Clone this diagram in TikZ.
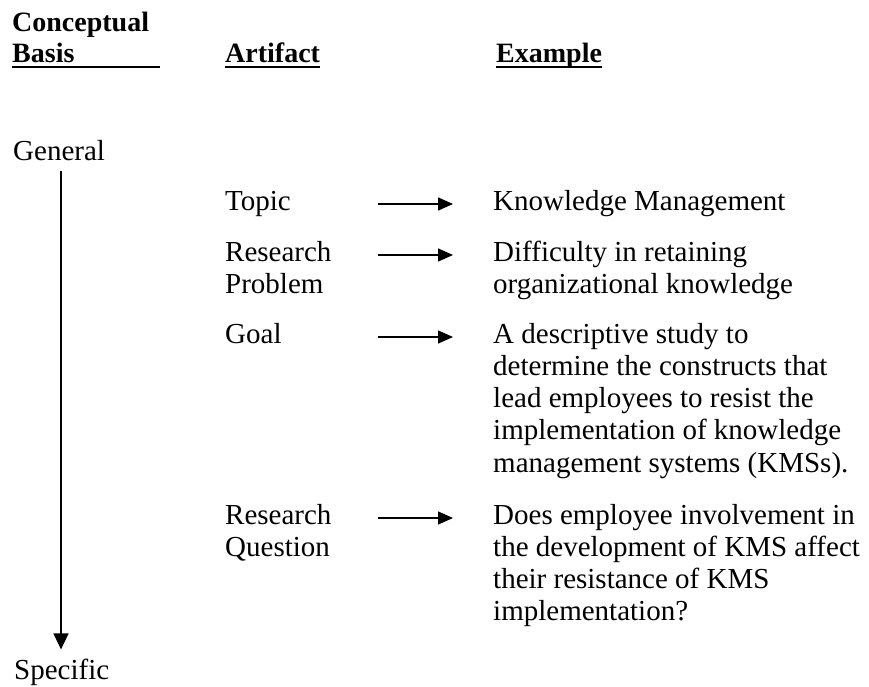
\documentclass[tikz,border=0pt]{standalone}
\usepackage{fontspec}
\setmainfont{Liberation Serif}
\usetikzlibrary{arrows.meta,calc}
\begin{document}
\begin{tikzpicture}[x=1pt,y=-1pt,
  txt/.style={anchor=base west, inner sep=0pt, font=\fontsize{29}{32.3}\selectfont},
  hdr/.style={anchor=base west, inner sep=0pt, font=\fontsize{28}{31}\selectfont\bfseries},
  ul/.style={line width=2.5pt},
  conn/.style={line width=1.5pt, -{Triangle[length=15pt,width=13pt]}},
  vert/.style={line width=1.5pt, -{Triangle[length=16pt,width=15pt]}}]
\useasboundingbox (0,0) rectangle (869,686);
% headers
\node[hdr] (cb) at (12,31) {\parbox[t]{200pt}{Conceptual\\Basis}};
\coordinate (cbend) at (160,67);
\draw[ul] (cbend -| cb.west) -- (cbend);
\node[hdr] (art) at (225,62) {Artifact};
\draw[ul] ([yshift=-5pt]art.base west) -- ([yshift=-5pt]art.base east);
\node[hdr] (exm) at (496,62) {Example};
\draw[ul] ([yshift=-5pt]exm.base west) -- ([yshift=-5pt]exm.base east);
% general to specific
\node[txt] (gen) at (13,160) {General};
\node[txt] (spec) at (14,679) {Specific};
\coordinate (vx) at (61,0);
\draw[vert] ([yshift=-11pt]gen.south -| vx) -- ([yshift=9pt]spec.north -| vx);
% artifacts
\node[txt] (a1) at (225,210) {Topic};
\node[txt] (a2) at (225,261) {\parbox[t]{150pt}{Research\\Problem}};
\node[txt] (a3) at (225,343) {Goal};
\node[txt] (a4) at (225,524) {\parbox[t]{150pt}{Research\\Question}};
% examples
\node[txt] (e1) at (493,210) {Knowledge Management};
\node[txt] (e2) at (493,261) {\parbox[t]{370pt}{Difficulty in retaining\\organizational knowledge}};
\node[txt] (e3) at (493,343) {\parbox[t]{370pt}{A descriptive study to\\determine the constructs that\\lead employees to resist the\\implementation of knowledge\\management systems (KMSs).}};
\node[txt] (e4) at (493,524) {\parbox[t]{370pt}{Does employee involvement in\\the development of KMS affect\\their resistance of KMS\\implementation?}};
% connectors
\foreach \e in {e1,e2,e3,e4}{
  \draw[conn] ($(\e.base west)+(-115,-6)$) -- ($(\e.base west)+(-40,-6)$);
}
\end{tikzpicture}
\end{document}
